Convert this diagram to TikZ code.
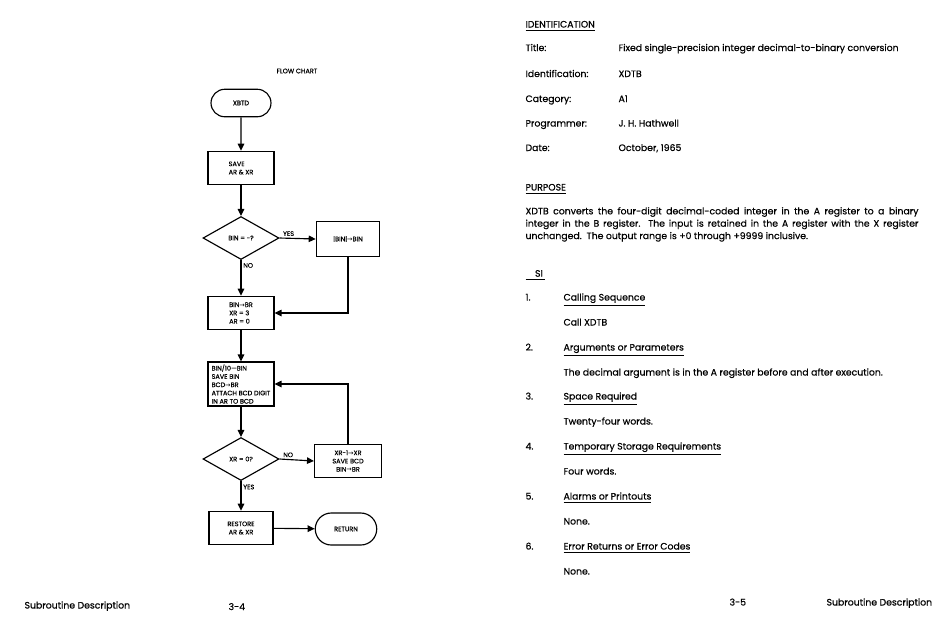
\documentclass[tikz,border=0pt]{standalone}
\usepackage{fontspec}
\setmainfont{Poppins}[FakeBold=0.5]
\newfontfamily\arrowfont{DejaVu Sans}
\usetikzlibrary{arrows.meta, positioning, shapes.geometric, shapes.misc}
\newcommand{\chartfont}{\fontsize{3.7}{4.7}\selectfont}
\newcommand{\pagefont}{\fontsize{5.3}{7.05}\selectfont}
\newcommand{\goesto}{{\arrowfont →}}
\tikzset{
  every picture/.style={line width=0.65pt},
  box/.style={draw, rectangle, minimum width=#1, minimum height=0.67cm, inner sep=1pt, font=\chartfont, align=center},
  box/.default=1.32cm,
  term/.style={draw, rounded rectangle, minimum width=1.27cm, minimum height=0.55cm, inner sep=1pt, font=\chartfont},
  test/.style={draw, diamond, minimum width=1.52cm, minimum height=0.86cm, inner sep=0pt, font=\chartfont},
  arrow/.style={-{Triangle[length=1.4mm, width=1.3mm]}},
  tag/.style={font=\chartfont, inner sep=1pt},
  txt/.style={font=\pagefont, anchor=base west, inner sep=0pt},
  para/.style={txt, text width=7.86cm, align=justify},
}
\begin{document}
\begin{tikzpicture}[x=0.02cm, y=-0.02cm]
  \useasboundingbox (0,0) rectangle (950,627);
  % flow chart, left page
  \node[tag] (fc) at (297,71) {FLOW CHART};
  \node[term] (xbtd) at (241,103) {XBTD};
  \node[box, align=left] (save) at (241,168) {SAVE\\AR \& XR};
  \node[test] (q1) at (241,238) {BIN = -?};
  \node[box=1.27cm, minimum height=0.7cm] (abs) at (348,239) {|BIN|\goesto BIN};
  \node[box, align=left] (init) at (241,313) {BIN\goesto BR\\XR = 3\\AR = 0};
  \node[box, minimum height=0.88cm, align=left, inner sep=0pt] (digit) at (241,384)
    {BIN/10—BIN\\SAVE BIN\\BCD\goesto BR\\ATTACH BCD DIGIT\\IN AR TO BCD};
  \node[test] (q2) at (241,459) {XR = 0?};
  \node[box=1.34cm] (next) at (348,461) {XR-1\goesto XR\\SAVE BCD\\BIN\goesto BR};
  \node[box=1.28cm] (restore) at (241,528) {RESTORE\\AR \& XR};
  \node[term, minimum width=1.3cm, minimum height=0.64cm] (ret) at (346,529) {RETURN};
  \draw[arrow] (xbtd) -- (save);
  \draw[arrow] (save) -- (q1);
  \draw[arrow] (q1.east) -- node[tag, pos=0.25, above] {YES} (abs.west);
  \draw[arrow] (q1.south) -- node[tag, pos=0.15, right] {NO} (init.north);
  \draw[arrow] (abs.south) |- (init.east);
  \draw[arrow] (init) -- (digit);
  \draw[arrow] (digit) -- (q2.north);
  \draw[arrow] (q2.east) -- node[tag, pos=0.25, above] {NO} (next.west);
  \draw[arrow] (next.north) |- (digit.east);
  \draw[arrow] (q2.south) -- node[tag, pos=0.2, right] {YES} (restore.north);
  \draw[arrow] (restore) -- (ret);
  % description, right page
  \node[txt] (ident) at (525,27.5) {\underline{IDENTIFICATION}};
  \foreach \i/\k/\v/\y in {1/Title:/Fixed single-precision integer decimal-to-binary conversion/51,
      2/Identification:/XDTB/77, 3/Category:/A1/102, 4/Programmer:/J. H. Hathwell/126.5, 5/Date:/{October, 1965}/151} {
    \node[txt] (k\i) at (525,\y) {\k};
    \node[txt] (v\i) at (618,\y) {\v};
  }
  \node[txt] (purpose) at (525,190.5) {\underline{PURPOSE}};
  \node[para] (purp) at (525,214.3) {XDTB converts the four-digit decimal-coded integer in the A register to a binary\linebreak
    integer in the B register.\ \ The input is retained in the A register with the X register\linebreak
    unchanged.\ \ The output range is +0 through +9999 inclusive.};
  \node[txt] (usage) at (525,276.7) {\underline{\hspace{0.19cm}SI\hspace{0.05cm}}};
  \foreach \i/\h/\d/\y in {1/Calling Sequence/Call XDTB/300.5,
      2/Arguments or Parameters/The decimal argument is in the A register before and after execution./350.5,
      3/Space Required/Twenty-four words./399.5, 4/Temporary Storage Requirements/Four words./449.5,
      5/Alarms or Printouts/None./499.5, 6/Error Returns or Error Codes/None./549.5} {
    \node[txt] (n\i) at (525,\y) {\i.};
    \node[txt] (h\i) at (563,\y) {\underline{\h}};
    \node[txt] (d\i) at (563,{\y+25}) {\d};
  }
  % page footers
  \node[txt] (footl) at (24,608.5) {Subroutine Description};
  \node[txt] (pagel) at (228,610) {3-4};
  \node[txt] (pager) at (729,605.5) {3-5};
  \node[txt] (footr) at (826,605.5) {Subroutine Description};
\end{tikzpicture}
\end{document}
